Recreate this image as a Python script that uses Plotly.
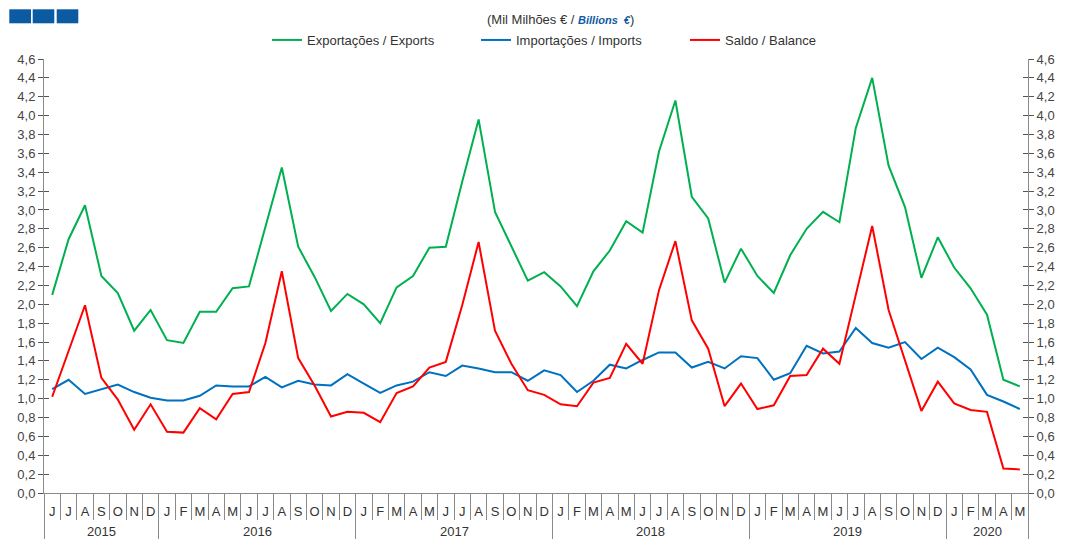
import plotly.graph_objects as go

# ---------------- data ----------------
months = (["J", "J", "A", "S", "O", "N", "D"]
          + ["J", "F", "M", "A", "M", "J", "J", "A", "S", "O", "N", "D"] * 4
          + ["J", "F", "M", "A", "M"])
years = ["2015", "2016", "2017", "2018", "2019", "2020"]
year_counts = [7, 12, 12, 12, 12, 5]

exports = [2.10, 2.69, 3.05, 2.30, 2.12, 1.72, 1.94,
           1.62, 1.59, 1.92, 1.92, 2.17, 2.19, 2.82, 3.45, 2.61, 2.29, 1.93, 2.11,
           2.00, 1.80, 2.18, 2.30, 2.60, 2.61, 3.30, 3.96, 2.98, 2.61, 2.25, 2.34,
           2.19, 1.98, 2.35, 2.57, 2.88, 2.76, 3.62, 4.16, 3.14, 2.91, 2.23, 2.59,
           2.30, 2.12, 2.52, 2.80, 2.98, 2.87, 3.87, 4.40, 3.47, 3.03, 2.28, 2.71,
           2.39, 2.17, 1.89, 1.20, 1.13]
imports = [1.10, 1.20, 1.05, 1.10, 1.15, 1.07, 1.01,
           0.98, 0.98, 1.03, 1.14, 1.13, 1.13, 1.23, 1.12, 1.19, 1.15, 1.14, 1.26,
           1.16, 1.06, 1.14, 1.18, 1.28, 1.24, 1.35, 1.32, 1.28, 1.28, 1.19, 1.30,
           1.25, 1.07, 1.19, 1.36, 1.32, 1.41, 1.49, 1.49, 1.33, 1.39, 1.32, 1.45,
           1.43, 1.20, 1.27, 1.56, 1.48, 1.50, 1.75, 1.59, 1.54, 1.60, 1.42, 1.54,
           1.44, 1.31, 1.04, 0.97, 0.89]
balance = [1.02, 1.50, 1.99, 1.22, 0.99, 0.67, 0.94,
           0.65, 0.64, 0.90, 0.78, 1.05, 1.07, 1.59, 2.35, 1.43, 1.14, 0.81, 0.86,
           0.85, 0.75, 1.06, 1.13, 1.33, 1.39, 1.99, 2.66, 1.72, 1.37, 1.09, 1.04,
           0.94, 0.92, 1.17, 1.22, 1.58, 1.37, 2.15, 2.67, 1.83, 1.53, 0.92, 1.16,
           0.89, 0.93, 1.24, 1.25, 1.53, 1.37, 2.10, 2.83, 1.94, 1.41, 0.87, 1.18,
           0.95, 0.88, 0.86, 0.26, 0.25]

series_names = ["Exportações / Exports", "Importações / Imports", "Saldo / Balance"]
series_colors = ["#00B050", "#0070C0", "#FF0000"]

# ---------------- geometry helpers ----------------
# the page body has an 8px margin, so the figure is drawn 8px smaller and
# every page position below is converted into figure coordinates.
OFF = 8
W, H = 1083 - OFF, 539 - OFF
ML, MR, MT, MB = 44 - OFF, 55, 59 - OFF, 46
PW, PH = W - ML - MR, H - MT - MB


def px_x(p):
    return (p - OFF - ML) / PW


def px_y(p):
    return (H - MB - (p - OFF)) / PH


x = list(range(len(months)))
bounds = [-0.5]
for c in year_counts:
    bounds.append(bounds[-1] + c)
centers = [(bounds[i] + bounds[i + 1]) / 2 for i in range(len(years))]

FONT = "Liberation Sans, Arial, sans-serif"
TXT = "#333333"
AX = "#8a8a8a"

fig = go.Figure()
for name, vals, col in zip(series_names, [exports, imports, balance], series_colors):
    fig.add_trace(go.Scatter(x=x, y=vals, mode="lines", name=name,
                             line=dict(color=col, width=2), hoverinfo="skip"))

# invisible helper traces so that the extra axes are drawn
for xa, ya in [("x", "y2"), ("x", "y3"), ("x", "y4"), ("x2", "y")]:
    fig.add_trace(go.Scatter(x=x, y=balance, mode="lines", xaxis=xa, yaxis=ya,
                             line=dict(color="rgba(0,0,0,0)", width=0),
                             showlegend=False, hoverinfo="skip"))

yax_common = dict(range=[0, 4.6], dtick=0.2, tick0=0, tickformat=".1f",
                  showgrid=False, zeroline=False, fixedrange=True, automargin=False)

fig.update_layout(
    width=W, height=H, autosize=False,
    margin=dict(l=ML, r=MR, t=MT, b=MB, pad=0, autoexpand=False),
    paper_bgcolor="white", plot_bgcolor="white",
    separators=",.",
    font=dict(family=FONT, size=13, color=TXT),
    showlegend=True,
    legend=dict(orientation="h", xref="container", yref="container",
                x=(267 - OFF) / W, xanchor="left",
                y=1 - (40 - OFF) / H, yanchor="middle", font=dict(size=13, color=TXT),
                bgcolor="rgba(0,0,0,0)", itemwidth=30, tracegroupgap=0,
                entrywidth=164, entrywidthmode="pixels"),
    xaxis=dict(range=[-0.5, len(months) - 0.5], tickmode="array", tickvals=x,
               ticktext=months, ticks="", showline=True, linecolor=AX, linewidth=1,
               showgrid=False, zeroline=False, tickfont=dict(size=13, color=TXT),
               ticklabelstandoff=6, automargin=False,
               minor=dict(ticks="outside", ticklen=26, tickcolor=AX, tickwidth=1,
                          tickmode="linear", tick0=-0.5, dtick=1, showgrid=False)),
    xaxis2=dict(overlaying="x", anchor="y", side="bottom", automargin=False,
                range=[-0.5, len(months) - 0.5], tickmode="array", tickvals=bounds,
                ticks="outside", ticklen=50, tickcolor=AX, tickwidth=1,
                showticklabels=False, showline=False, showgrid=False, zeroline=False),
    yaxis=dict(**yax_common, side="left", ticks="outside", ticklen=5, tickcolor="#555",
               showline=True, linecolor=AX, linewidth=1,
               tickfont=dict(size=13, color="#444")),
    yaxis2=dict(**yax_common, overlaying="y", anchor="x", side="right", ticks="outside",
                ticklen=5, tickcolor="#555", showline=True, linecolor=AX, linewidth=1,
                tickfont=dict(size=13, color="#444")),
    yaxis3=dict(**yax_common, overlaying="y", anchor="x", side="left", ticks="inside",
                ticklen=5, tickcolor="#555", showticklabels=False, showline=False),
    yaxis4=dict(**yax_common, overlaying="y", anchor="x", side="right", ticks="inside",
                ticklen=5, tickcolor="#555", showticklabels=False, showline=False),
)

# year labels
for yr, cx in zip(years, centers):
    fig.add_annotation(x=cx, y=0, xref="x", yref="paper", text=yr, showarrow=False,
                       yanchor="top", yshift=-29, font=dict(size=13, color=TXT))

# subtitle
fig.add_annotation(
    x=px_x(560), y=px_y(20), xref="paper", yref="paper", showarrow=False,
    xanchor="center", yanchor="middle",
    text="(Mil Milhões € / <span style='color:#0b5aa2;font-size:11px'><b><i>Billions  €</i></b></span>)",
    font=dict(size=13, color=TXT))

# logo squares (decoration)
for a, b in [(9.3, 31), (32.7, 54.3), (56.7, 78.3)]:
    fig.add_shape(type="rect", xref="paper", yref="paper",
                  x0=px_x(a), x1=px_x(b), y0=px_y(23.3), y1=px_y(9.3),
                  fillcolor="#0b5aa2", line=dict(width=0), layer="above")

fig.write_html("out.html")
